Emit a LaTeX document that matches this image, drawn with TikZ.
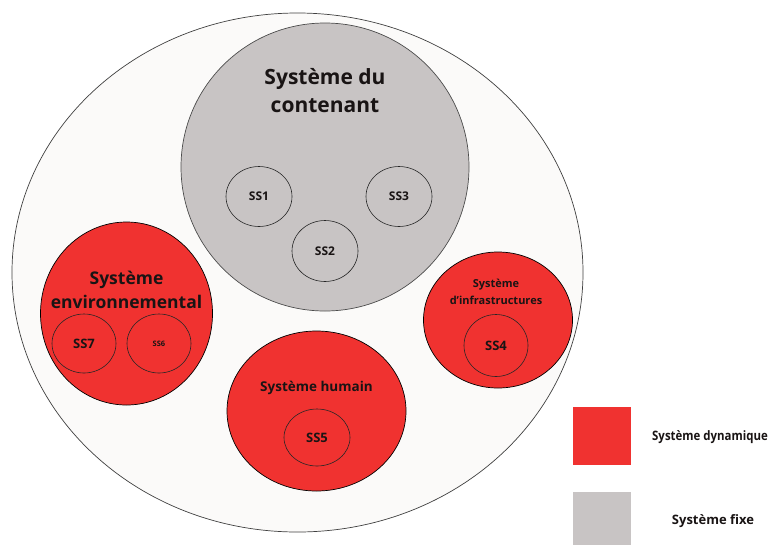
\documentclass[tikz,border=0pt]{standalone}
\usepackage{fontspec}
\setmainfont{Open Sans}
\usetikzlibrary{shapes.geometric}
\definecolor{dynred}{RGB}{240,50,48}
\definecolor{fixgray}{RGB}{200,196,196}
\definecolor{outerfill}{RGB}{251,250,249}
\definecolor{inkc}{RGB}{25,20,20}
\tikzset{
  ell/.style={ellipse, inner sep=0pt, draw=black, line width=0.7pt},
  sub/.style={ellipse, inner sep=0pt, draw=black!85, line width=0.6pt},
  lbl/.style={text=inkc, align=center, inner sep=0pt},
}
\newcommand{\fs}[2]{\fontsize{#1}{#2}\selectfont\bfseries}
\begin{document}
\begin{tikzpicture}[x=1pt,y=-1pt]
\useasboundingbox (0,0) rectangle (783,544);
\fill[white] (0,0) rectangle (783,544);
% outer
\node[ell, fill=outerfill, draw=black!75, minimum width=571pt, minimum height=519pt] (outer) at (297.5,272.5) {};
% gray container
\node[ell, fill=fixgray, draw=black!70, minimum width=288pt, minimum height=288pt] (cont) at (325,167) {};
\node[lbl, font=\fs{21}{28}] (tcont) at (325,91) {Système du\\contenant};
\node[sub, minimum width=66pt, minimum height=60pt] (ss1) at (259,196.5) {};
\node[lbl, font=\fs{12}{12}] at (ss1) {SS1};
\node[sub, minimum width=66pt, minimum height=60pt] (ss3) at (399,196.5) {};
\node[lbl, font=\fs{12}{12}] at (ss3) {SS3};
\node[sub, minimum width=66pt, minimum height=61pt] (ss2) at (325,251) {};
\node[lbl, font=\fs{12}{12}] at (ss2) {SS2};
% environmental
\node[ell, fill=dynred, minimum width=172pt, minimum height=183pt] (env) at (126.5,313.5) {};
\node[lbl, font=\fs{17.5}{24}] (tenv) at (126.5,290) {Système\\environnemental};
\node[sub, minimum width=64pt, minimum height=59pt] (ss7) at (84,343.5) {};
\node[lbl, font=\fs{13}{13}] at (ss7) {SS7};
\node[sub, minimum width=64pt, minimum height=59pt] (ss6) at (159,343.5) {};
\node[lbl, font=\fs{7.5}{8}] at (ss6) {SS6};
% infrastructures
\node[ell, fill=dynred, minimum width=149pt, minimum height=136pt] (inf) at (498,320) {};
\node[lbl, font=\fs{11}{17}] (tinf) at (496,291.5) {Système\\d’infrastructures};
\node[sub, minimum width=64pt, minimum height=62pt] (ss4) at (496,345.5) {};
\node[lbl, font=\fs{13}{13}] at (ss4) {SS4};
% humain
\node[ell, fill=dynred, minimum width=179pt, minimum height=160pt] (hum) at (316.5,411) {};
\node[lbl, font=\fs{13.5}{14}] (thum) at (316.5,388) {Système humain};
\node[sub, minimum width=66pt, minimum height=57pt] (ss5) at (317,437.5) {};
\node[lbl, font=\fs{13}{13}] at (ss5) {SS5};
% legend
\node[rectangle, fill=dynred, minimum width=58pt, minimum height=58pt, inner sep=0pt] (legdyn) at (602,436) {};
\node[lbl, font=\fs{13}{13}, anchor=west, xscale=0.88] (tdyn) at (652,437) {Système dynamique};
\node[rectangle, fill=fixgray, minimum width=58pt, minimum height=54pt, inner sep=0pt] (legfix) at (602,519) {};
\node[lbl, font=\fs{13}{13}] (tfix) at (713,521) {Système fixe};
\end{tikzpicture}
\end{document}
